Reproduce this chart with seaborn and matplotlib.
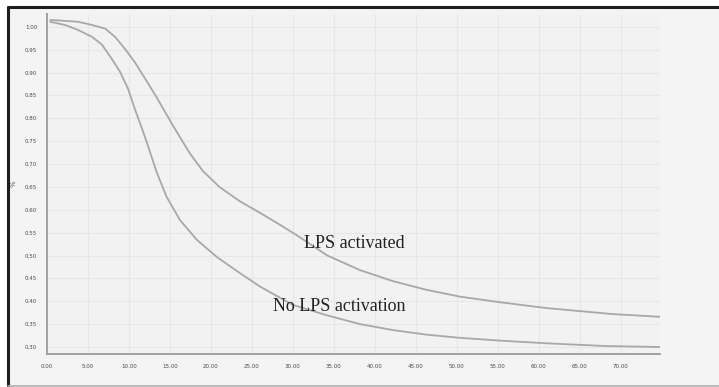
import matplotlib
matplotlib.use("Agg")
import numpy as np
import pandas as pd
import seaborn as sns
from matplotlib import pyplot as plt
from matplotlib.lines import Line2D
from matplotlib.patches import Rectangle

# values (unreadable tick text is estimated)
lps_x = [0.4, 2.2, 3.8, 5.5, 7.1, 8.3, 9.5, 10.7, 12.0, 13.2, 14.4, 15.6,
         17.4, 19.0, 21.1, 23.5, 26.3, 28.8, 30.5, 34.2, 38.2, 42.2, 46.3,
         50.4, 55.2, 61.0, 69.0, 74.8]
lps_y = [1.015, 1.013, 1.011, 1.004, 0.996, 0.978, 0.952, 0.923, 0.886,
         0.851, 0.814, 0.777, 0.724, 0.685, 0.649, 0.619, 0.590, 0.563,
         0.544, 0.500, 0.468, 0.444, 0.425, 0.410, 0.398, 0.385, 0.372, 0.366]

nolps_x = [0.4, 2.2, 3.8, 5.5, 6.7, 7.9, 8.9, 9.9, 10.7, 11.6, 12.2, 13.4,
           14.6, 16.2, 18.3, 20.7, 23.5, 26.0, 30.0, 34.2, 38.2, 42.2, 46.3,
           50.4, 55.2, 61.0, 68.3, 74.8]
nolps_y = [1.011, 1.004, 0.993, 0.978, 0.961, 0.930, 0.902, 0.864, 0.821,
           0.777, 0.746, 0.681, 0.628, 0.578, 0.534, 0.497, 0.462, 0.432,
           0.392, 0.369, 0.350, 0.337, 0.327, 0.320, 0.314, 0.308, 0.302, 0.300]

x_ticks = list(range(0, 75, 5))
y_ticks = [round(0.30 + 0.05 * i, 2) for i in range(15)]

df = pd.concat([
    pd.DataFrame({"t": lps_x, "v": lps_y, "grp": "LPS activated"}),
    pd.DataFrame({"t": nolps_x, "v": nolps_y, "grp": "No LPS activation"}),
])

sns.set_style("whitegrid")
plt.rcParams["font.family"] = ["DejaVu Sans"]

fig = plt.figure(figsize=(7.19, 3.87), dpi=100)
fig.patch.set_facecolor("white")

# outer scanned frame, kept behind the axes
fig.add_artist(Rectangle((0.011, 0.003), 1.0, 0.979, transform=fig.transFigure,
                         facecolor="#f4f4f4", edgecolor="none", zorder=-10))
fig.add_artist(Line2D([0.011, 0.011], [0.003, 0.982], transform=fig.transFigure,
                      color="#1e1e1e", lw=2.2, zorder=-5))
fig.add_artist(Line2D([0.011, 1.0], [0.982, 0.982], transform=fig.transFigure,
                      color="#1e1e1e", lw=2.2, zorder=-5))
fig.add_artist(Line2D([0.011, 1.0], [0.003, 0.003], transform=fig.transFigure,
                      color="#b0b0b0", lw=1.2, zorder=-5))

ax = fig.add_axes([0.0654, 0.0853, 0.8526, 0.8785])
ax.set_zorder(5)
ax.set_facecolor("#f2f2f2")

sns.lineplot(data=df, x="t", y="v", hue="grp", palette=["#a8a8a8", "#a8a8a8"],
             linewidth=1.3, legend=False, ax=ax, solid_joinstyle="round",
             solid_capstyle="round")

ax.set_xlim(0, 74.8)
ax.set_ylim(0.2847, 1.028)
ax.set_xticks(x_ticks)
ax.set_xticklabels([f"{v:.2f}" for v in x_ticks])
ax.set_yticks(y_ticks)
ax.set_yticklabels([f"{v:.2f}" for v in y_ticks])
ax.tick_params(axis="both", labelsize=4, colors="#9a9a9a", labelcolor="#4a4a4a",
               length=2, width=0.8, pad=5)
ax.set_xlabel("")
ax.set_ylabel("%", fontsize=5, color="#666666", labelpad=6)
ax.grid(True, color="#e7e7e7", linewidth=0.8)

for side in ["top", "right"]:
    ax.spines[side].set_visible(False)
for side in ["left", "bottom"]:
    ax.spines[side].set_color("#a0a0a0")
    ax.spines[side].set_linewidth(1.4)

ax.text(31.3, 0.526, "LPS activated", family="Liberation Serif", fontsize=13,
        color="#222222", va="center", ha="left")
ax.text(27.6, 0.389, "No LPS activation", family="Liberation Serif", fontsize=13,
        color="#222222", va="center", ha="left")

fig.savefig("out.png", dpi=100)
